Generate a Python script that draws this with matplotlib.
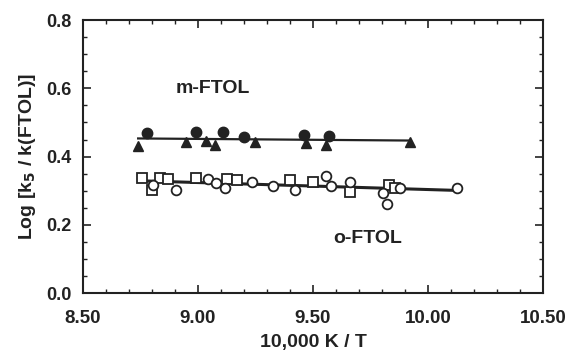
import numpy as np
import matplotlib
matplotlib.use("Agg")
import matplotlib.pyplot as plt
from matplotlib.ticker import MultipleLocator

# m-FTOL : cercles pleins et triangles pleins
m_circ_x = [8.78, 8.99, 9.11, 9.20, 9.46, 9.57]
m_circ_y = [0.469, 0.471, 0.471, 0.458, 0.463, 0.461]
m_tri_x = [8.74, 8.95, 9.035, 9.075, 9.25, 9.47, 9.555, 9.92]
m_tri_y = [0.431, 0.444, 0.447, 0.434, 0.444, 0.439, 0.434, 0.444]

# o-FTOL : carres ouverts et cercles ouverts
o_sq_x = [8.755, 8.80, 8.835, 8.87, 8.99, 9.125, 9.17, 9.40, 9.50, 9.66, 9.83, 9.855]
o_sq_y = [0.336, 0.302, 0.336, 0.334, 0.336, 0.334, 0.331, 0.331, 0.326, 0.297, 0.317, 0.307]
o_circ_x = [8.805, 8.905, 9.045, 9.08, 9.117, 9.233, 9.325, 9.42, 9.556, 9.58, 9.66, 9.806, 9.82, 9.878, 10.125]
o_circ_y = [0.317, 0.302, 0.334, 0.322, 0.307, 0.326, 0.313, 0.302, 0.342, 0.313, 0.326, 0.292, 0.262, 0.307, 0.307]

x_ticks = [8.50, 9.00, 9.50, 10.00, 10.50]
y_ticks = [0.0, 0.2, 0.4, 0.6, 0.8]

plt.rcParams['font.family'] = ['Liberation Sans', 'DejaVu Sans']
plt.rcParams['font.weight'] = 'bold'
plt.rcParams['mathtext.default'] = 'bf'

fig = plt.figure(figsize=(5.68, 3.6), dpi=100)
ax = fig.add_axes([0.146, 0.186, 0.81, 0.758])

# droites de regression
mx = np.array(m_circ_x + m_tri_x)
my = np.array(m_circ_y + m_tri_y)
pm = np.polyfit(mx, my, 1)
xx = np.array([mx.min(), mx.max()])
ax.plot(xx, np.polyval(pm, xx), color='#222222', lw=1.6, zorder=1)

ox = np.array(o_sq_x + o_circ_x)
oy = np.array(o_sq_y + o_circ_y)
po = np.polyfit(ox, oy, 1)
xx = np.array([ox.min(), ox.max()])
ax.plot(xx, np.polyval(po, xx), color='#222222', lw=2.2, zorder=1)

ax.plot(m_circ_x, m_circ_y, 'o', ms=7.5, color='#222222', zorder=3)
ax.plot(m_tri_x, m_tri_y, '^', ms=7, color='#222222', zorder=3)
ax.plot(o_sq_x, o_sq_y, 's', ms=6.5, mfc='white', mec='#222222', mew=1.3, zorder=2)
ax.plot(o_circ_x, o_circ_y, 'o', ms=7, mfc='white', mec='#222222', mew=1.3, zorder=2)

ax.text(9.065, 0.60, 'm-FTOL', fontsize=14, fontweight='bold', ha='center', va='center', color='#222222')
ax.text(9.74, 0.16, 'o-FTOL', fontsize=14, fontweight='bold', ha='center', va='center', color='#222222')

ax.set_xlim(8.5, 10.5)
ax.set_ylim(0.0, 0.8)
ax.set_xticks(x_ticks)
ax.set_xticklabels(['%.2f' % v for v in x_ticks], fontsize=13.5, fontweight='bold')
ax.set_yticks(y_ticks)
ax.set_yticklabels(['%.1f' % v for v in y_ticks], fontsize=13, fontweight='bold')
ax.xaxis.set_minor_locator(MultipleLocator(0.1))
ax.yaxis.set_minor_locator(MultipleLocator(0.05))
ax.tick_params(which='both', direction='in', top=True, right=True, color='#222222', labelcolor='#222222')
ax.tick_params(which='major', length=6, width=1.2)
ax.tick_params(which='minor', length=3, width=1.0)
ax.tick_params(axis='x', which='major', pad=12)
ax.tick_params(axis='y', which='major', pad=8)
for s in ax.spines.values():
    s.set_linewidth(1.5)
    s.set_color('#222222')

ax.set_xlabel('10,000 K / T', fontsize=14, fontweight='bold', color='#222222', labelpad=5)
ax.set_ylabel(r'Log [k$_5$ / k(FTOL)]', fontsize=14, fontweight='bold', color='#222222', labelpad=6)

fig.savefig('out.png', dpi=100)
